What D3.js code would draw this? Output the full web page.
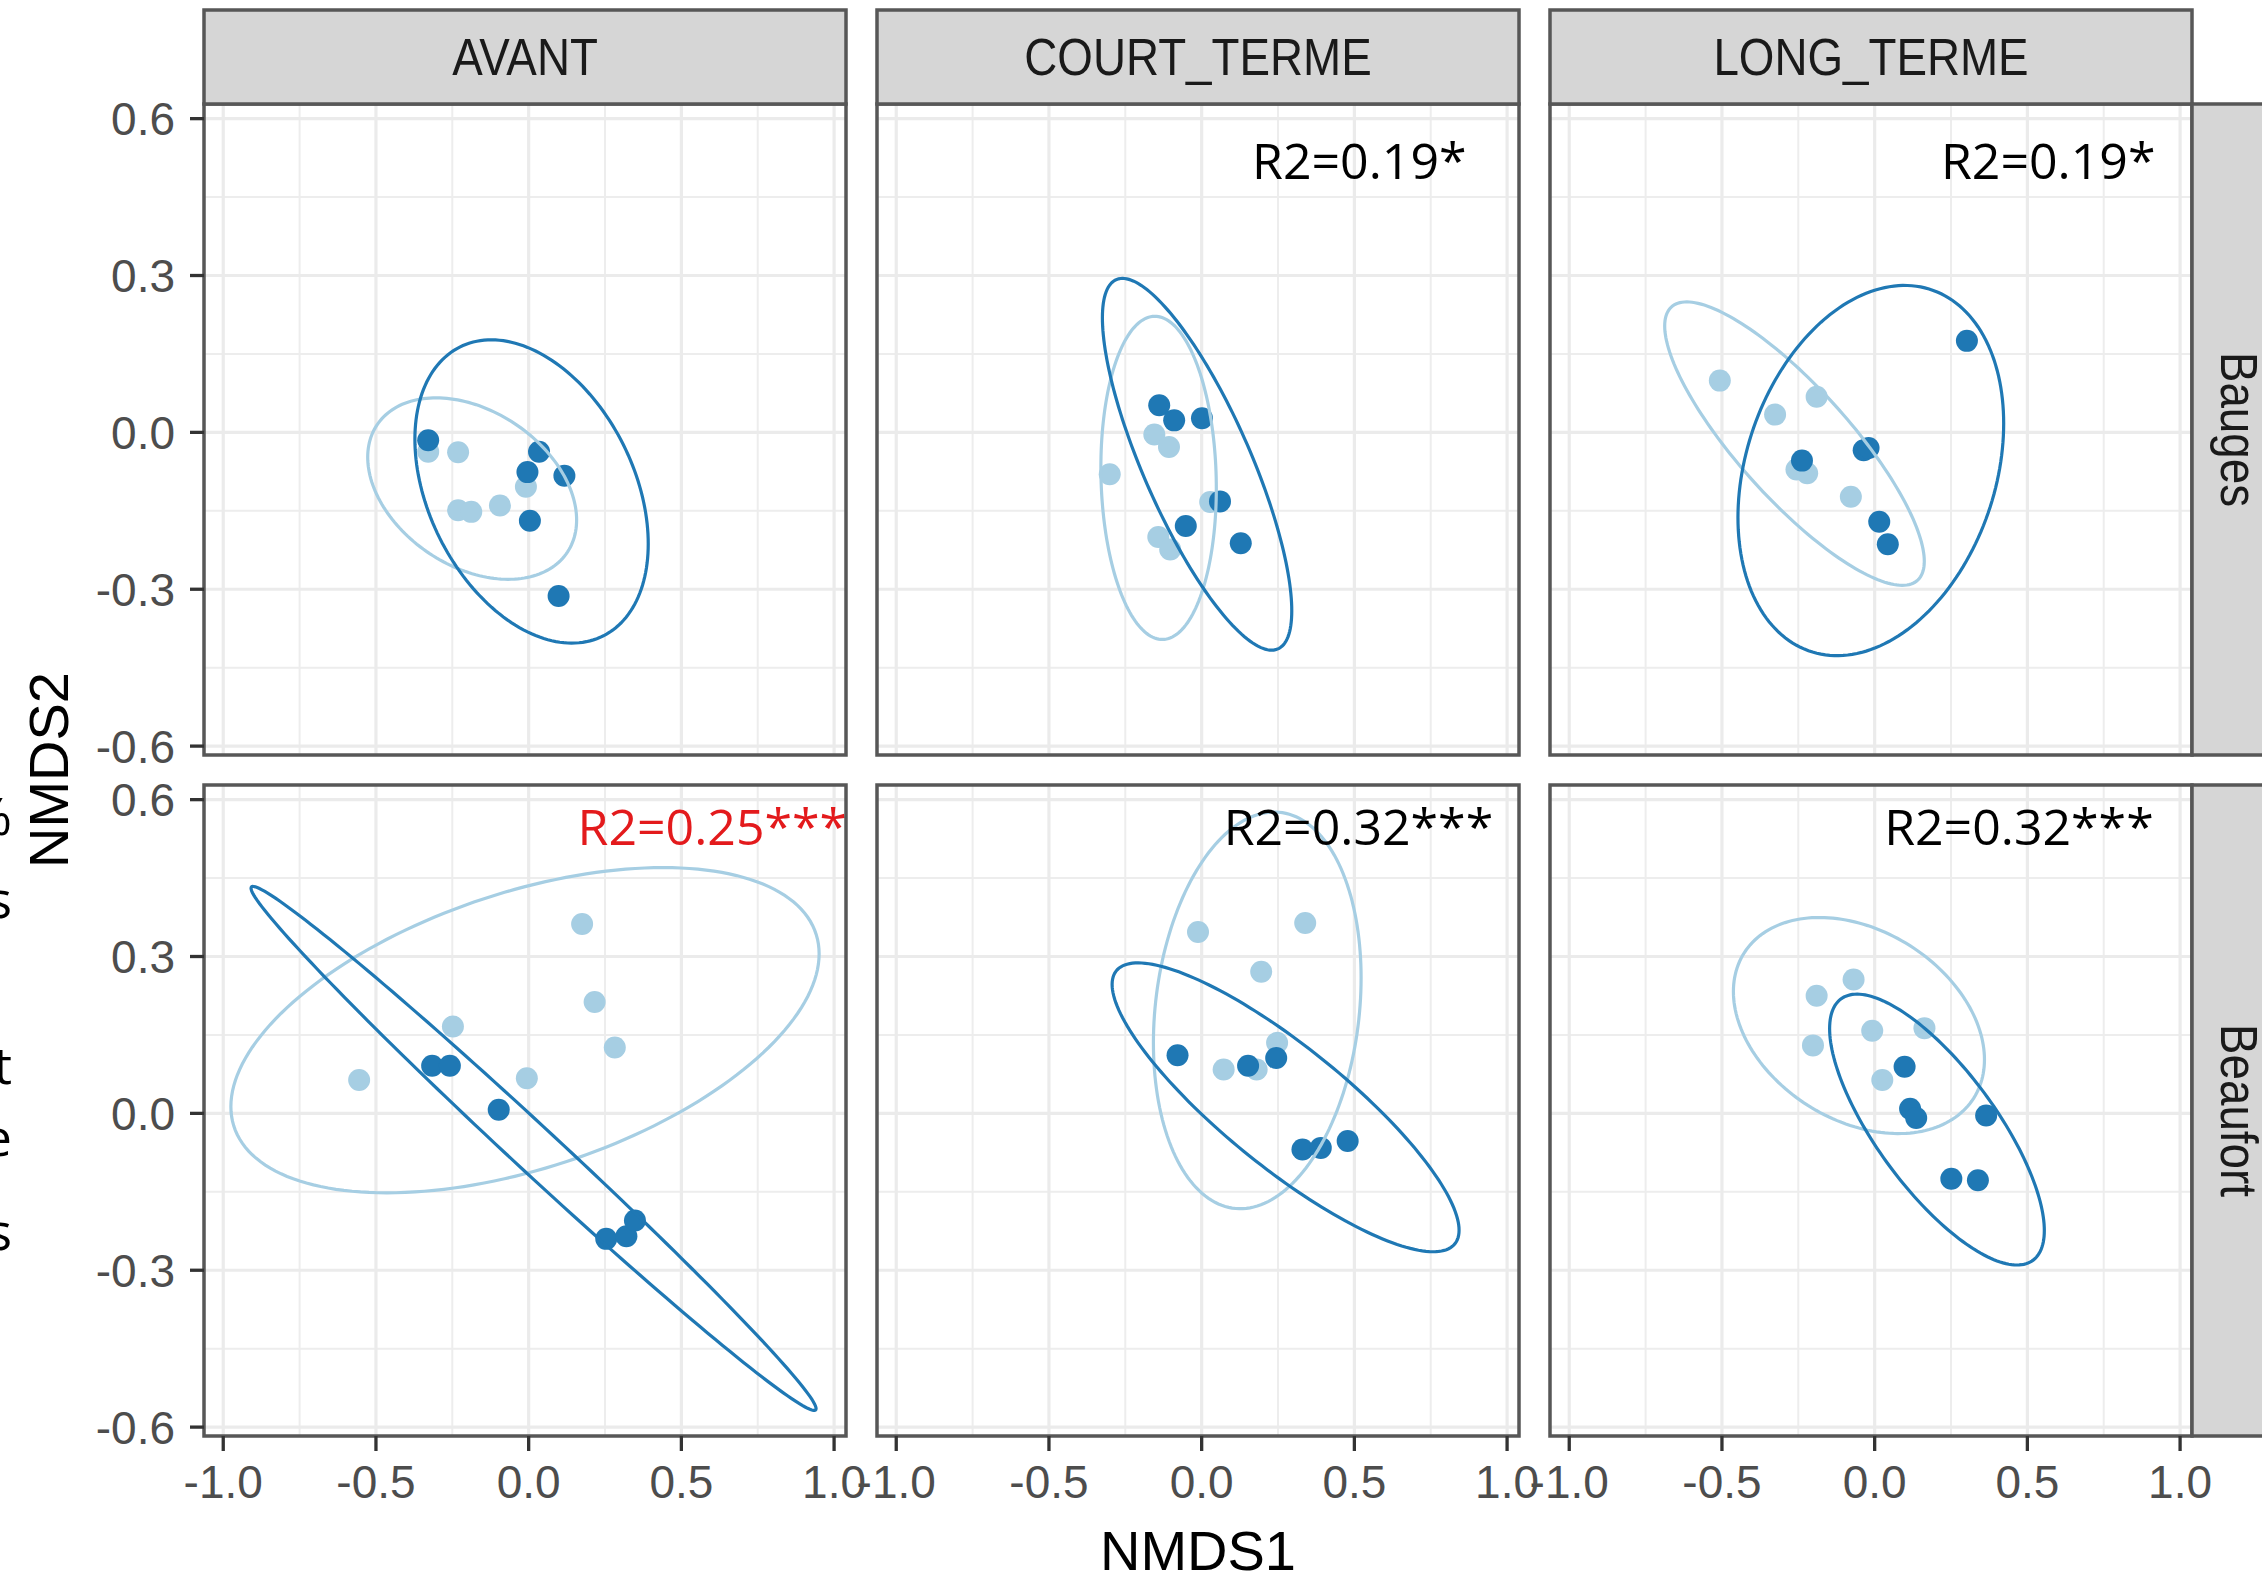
<!DOCTYPE html>
<html>
<head>
<meta charset="utf-8">
<script src="https://cdn.jsdelivr.net/npm/d3@7"></script>
<style>
  body { margin: 0; background: #fff; }
  svg { display: block; }
</style>
</head>
<body>
<div id="chart"></div>
<script>
// facets
var columns = ["AVANT", "COURT_TERME", "LONG_TERME"];
var rows = ["Bauges", "Beaufort"];
var groupColors = { light: "#A6CEE3", dark: "#1F78B4" };

var xTicks = [-1.0, -0.5, 0.0, 0.5, 1.0];
var xTickLabels = ["-1.0", "-0.5", "0.0", "0.5", "1.0"];
var xMinor = [-0.75, -0.25, 0.25, 0.75];
var yTicks = [-0.6, -0.3, 0.0, 0.3, 0.6];
var yTickLabels = ["-0.6", "-0.3", "0.0", "0.3", "0.6"];
var yMinor = [-0.45, -0.15, 0.15, 0.45];

// points [NMDS1, NMDS2], one array per panel and group
var baugesAvantLight = [[-0.329,-0.037],[-0.231,-0.038],[-0.009,-0.104],[-0.231,-0.149],[-0.188,-0.152],[-0.094,-0.140]];
var baugesAvantDark  = [[-0.329,-0.015],[0.034,-0.037],[-0.004,-0.076],[0.117,-0.083],[0.004,-0.169],[0.098,-0.313]];
var baugesCourtLight = [[-0.155,-0.004],[-0.107,-0.028],[-0.301,-0.080],[-0.142,-0.200],[-0.103,-0.224],[0.028,-0.133]];
var baugesCourtDark  = [[-0.139,0.052],[-0.090,0.023],[0.001,0.027],[0.060,-0.132],[-0.052,-0.179],[0.128,-0.212]];
var baugesLongLight  = [[-0.507,0.099],[-0.190,0.068],[-0.326,0.034],[-0.256,-0.071],[-0.221,-0.078],[-0.078,-0.123]];
var baugesLongDark   = [[0.302,0.175],[-0.036,-0.034],[-0.020,-0.030],[-0.238,-0.054],[0.015,-0.171],[0.043,-0.214]];
var beaufortAvantLight = [[0.175,0.362],[0.216,0.213],[0.282,0.126],[-0.555,0.064],[-0.248,0.166],[-0.006,0.067]];
var beaufortAvantDark  = [[-0.316,0.091],[-0.258,0.091],[-0.098,0.007],[0.254,-0.240],[0.320,-0.235],[0.348,-0.205]];
var beaufortCourtLight = [[-0.012,0.347],[0.339,0.364],[0.195,0.271],[0.247,0.135],[0.072,0.084],[0.180,0.084]];
var beaufortCourtDark  = [[-0.079,0.111],[0.152,0.091],[0.244,0.106],[0.330,-0.069],[0.390,-0.066],[0.478,-0.053]];
var beaufortLongLight  = [[-0.190,0.225],[-0.069,0.256],[-0.202,0.130],[-0.008,0.158],[0.163,0.163],[0.025,0.064]];
var beaufortLongDark   = [[0.098,0.089],[0.116,0.009],[0.136,-0.009],[0.365,-0.004],[0.251,-0.125],[0.338,-0.128]];

// ellipses: [cx, cy, half-width, half-height, y offset at rightmost point]
var baugesAvantEll    = { light: [-0.185,-0.1075,0.342,0.1735,-0.060], dark: [0.0095,-0.113,0.382,0.290,-0.100] };
var baugesCourtEll    = { light: [-0.141,-0.087,0.189,0.309,-0.020],   dark: [-0.015,-0.061,0.310,0.3555,-0.280] };
var baugesLongEll     = { light: [-0.2625,-0.0215,0.425,0.271,-0.225], dark: [-0.0126,-0.073,0.435,0.354,0.090] };
var beaufortAvantEll  = { light: [-0.012,0.159,0.963,0.311,0.146],     dark: [0.016,-0.067,0.925,0.501,-0.4975] };
var beaufortCourtEll  = { light: [0.182,0.197,0.340,0.3793,0.062],     dark: [0.2748,0.0116,0.568,0.2762,-0.235] };
var beaufortLongEll   = { light: [-0.0515,0.168,0.411,0.2066,-0.065],  dark: [0.204,-0.031,0.3515,0.259,-0.193] };

// R2 annotations: label, x start, y baseline (data units)
var r2Labels = ["", "R2=0.19*", "R2=0.19*", "R2=0.25***", "R2=0.32***", "R2=0.32***"];
var r2X = [0, 0.165, 0.217, 0.160, 0.072, 0.031];
var r2Y = [0, 0.485, 0.485, 0.514, 0.514, 0.514];
var r2Red = [false, false, false, true, false, false];

var sideText = ["%", "s", "t", "e", "s"];

var panels = [
  { light: baugesAvantLight, dark: baugesAvantDark, ell: baugesAvantEll },
  { light: baugesCourtLight, dark: baugesCourtDark, ell: baugesCourtEll },
  { light: baugesLongLight, dark: baugesLongDark, ell: baugesLongEll },
  { light: beaufortAvantLight, dark: beaufortAvantDark, ell: beaufortAvantEll },
  { light: beaufortCourtLight, dark: beaufortCourtDark, ell: beaufortCourtEll },
  { light: beaufortLongLight, dark: beaufortLongDark, ell: beaufortLongEll }
];

// layout
var width = 2262, height = 1572;
var colX = [204, 877, 1550];
var rowY = [104, 785];
var panelW = 642, panelH = 651;
var stripTop = 10, stripSize = 94;
var sansFont = "'Liberation Sans', Arial, sans-serif";
var annoFont = "'Open Sans', 'Noto Sans', sans-serif";

var svg = d3.select("#chart").append("svg")
  .attr("width", width).attr("height", height);

svg.append("rect").attr("width", width).attr("height", height).attr("fill", "#fff");

var defs = svg.append("defs");

function ellipsePoints(e) {
  var cx = e[0], cy = e[1], w = e[2], h = e[3], a = e[4];
  var b = Math.sqrt(Math.max(h*h - a*a, 0));
  var pts = [];
  for (var k = 0; k < 180; k++) {
    var t = k / 180 * 2 * Math.PI;
    pts.push([cx + w*Math.cos(t), cy + a*Math.cos(t) + b*Math.sin(t)]);
  }
  return pts;
}

panels.forEach(function(p, idx) {
  var r = Math.floor(idx / 3), c = idx % 3;
  var x0 = colX[c], y0 = rowY[r];
  var xScale = d3.scaleLinear().domain([-1.063, 1.039]).range([x0, x0 + panelW]);
  var yScale = d3.scaleLinear().domain([-0.617, 0.628]).range([y0 + panelH, y0]);

  defs.append("clipPath").attr("id", "clip" + idx)
    .append("rect").attr("x", x0).attr("y", y0).attr("width", panelW).attr("height", panelH);

  var g = svg.append("g");
  var inner = g.append("g").attr("clip-path", "url(#clip" + idx + ")");

  // grid
  inner.selectAll(".xminor").data(xMinor).enter().append("line")
    .attr("x1", function(d) { return xScale(d); }).attr("x2", function(d) { return xScale(d); })
    .attr("y1", y0).attr("y2", y0 + panelH)
    .attr("stroke", "#EDEDED").attr("stroke-width", 2);
  inner.selectAll(".yminor").data(yMinor).enter().append("line")
    .attr("y1", function(d) { return yScale(d); }).attr("y2", function(d) { return yScale(d); })
    .attr("x1", x0).attr("x2", x0 + panelW)
    .attr("stroke", "#EDEDED").attr("stroke-width", 2);
  inner.selectAll(".xmajor").data(xTicks).enter().append("line")
    .attr("x1", function(d) { return xScale(d); }).attr("x2", function(d) { return xScale(d); })
    .attr("y1", y0).attr("y2", y0 + panelH)
    .attr("stroke", "#EBEBEB").attr("stroke-width", 3.2);
  inner.selectAll(".ymajor").data(yTicks).enter().append("line")
    .attr("y1", function(d) { return yScale(d); }).attr("y2", function(d) { return yScale(d); })
    .attr("x1", x0).attr("x2", x0 + panelW)
    .attr("stroke", "#EBEBEB").attr("stroke-width", 3.2);

  // points
  ["light", "dark"].forEach(function(grp) {
    inner.selectAll(".pt-" + grp).data(p[grp]).enter().append("circle")
      .attr("cx", function(d) { return xScale(d[0]); })
      .attr("cy", function(d) { return yScale(d[1]); })
      .attr("r", 11)
      .attr("fill", groupColors[grp]);
  });

  // ellipses
  var line = d3.line()
    .x(function(d) { return xScale(d[0]); })
    .y(function(d) { return yScale(d[1]); })
    .curve(d3.curveLinearClosed);
  ["light", "dark"].forEach(function(grp) {
    inner.append("path")
      .attr("d", line(ellipsePoints(p.ell[grp])))
      .attr("fill", "none")
      .attr("stroke", groupColors[grp])
      .attr("stroke-width", 3.2);
  });

  // R2 label
  if (r2Labels[idx]) {
    g.append("text")
      .attr("x", xScale(r2X[idx])).attr("y", yScale(r2Y[idx]))
      .attr("font-family", annoFont).attr("font-size", "50px")
      .attr("fill", r2Red[idx] ? "#E31A1C" : "#000")
      .text(r2Labels[idx]);
  }

  // border
  g.append("rect").attr("x", x0).attr("y", y0).attr("width", panelW).attr("height", panelH)
    .attr("fill", "none").attr("stroke", "#575757").attr("stroke-width", 3.5);

  // y axis on first column
  if (c === 0) {
    g.selectAll(".ytick").data(yTicks).enter().append("line")
      .attr("x1", x0 - 14).attr("x2", x0)
      .attr("y1", function(d) { return yScale(d); }).attr("y2", function(d) { return yScale(d); })
      .attr("stroke", "#333").attr("stroke-width", 3.3);
    g.selectAll(".ylab").data(yTicks).enter().append("text")
      .attr("x", x0 - 29)
      .attr("y", function(d) { return yScale(d); })
      .attr("dy", "0.36em")
      .attr("text-anchor", "end")
      .attr("font-family", sansFont).attr("font-size", "46px").attr("fill", "#4D4D4D")
      .text(function(d, i) { return yTickLabels[i]; });
  }

  // x axis on bottom row
  if (r === 1) {
    g.selectAll(".xtick").data(xTicks).enter().append("line")
      .attr("x1", function(d) { return xScale(d); }).attr("x2", function(d) { return xScale(d); })
      .attr("y1", y0 + panelH).attr("y2", y0 + panelH + 15)
      .attr("stroke", "#333").attr("stroke-width", 3.3);
    g.selectAll(".xlab").data(xTicks).enter().append("text")
      .attr("x", function(d) { return xScale(d); })
      .attr("y", y0 + panelH + 62)
      .attr("text-anchor", "middle")
      .attr("font-family", sansFont).attr("font-size", "46px").attr("fill", "#4D4D4D")
      .text(function(d, i) { return xTickLabels[i]; });
  }
});

// top strips
columns.forEach(function(name, c) {
  svg.append("rect").attr("x", colX[c]).attr("y", stripTop).attr("width", panelW).attr("height", stripSize)
    .attr("fill", "#D6D6D6").attr("stroke", "#575757").attr("stroke-width", 3.5);
  svg.append("text")
    .attr("transform", "translate(" + (colX[c] + panelW / 2) + "," + (stripTop + 65) + ") scale(0.88,1)")
    .attr("text-anchor", "middle")
    .attr("font-family", sansFont).attr("font-size", "52px").attr("fill", "#1A1A1A")
    .text(name);
});

// right strips
rows.forEach(function(name, r) {
  var sx = colX[2] + panelW;
  svg.append("rect").attr("x", sx).attr("y", rowY[r]).attr("width", stripSize).attr("height", panelH)
    .attr("fill", "#D6D6D6").attr("stroke", "#575757").attr("stroke-width", 3.5);
  svg.append("text")
    .attr("transform", "translate(" + (sx + 29) + "," + (rowY[r] + panelH / 2) + ") rotate(90) scale(0.88,1)")
    .attr("text-anchor", "middle")
    .attr("font-family", sansFont).attr("font-size", "52px").attr("fill", "#1A1A1A")
    .text(name);
});

// axis titles
svg.append("text")
  .attr("x", (colX[0] + colX[2] + panelW) / 2).attr("y", 1570)
  .attr("text-anchor", "middle")
  .attr("font-family", sansFont).attr("font-size", "56px").attr("fill", "#000")
  .text("NMDS1");
svg.append("text")
  .attr("transform", "translate(68," + ((rowY[0] + rowY[1] + panelH) / 2) + ") rotate(-90)")
  .attr("text-anchor", "middle")
  .attr("font-family", sansFont).attr("font-size", "56px").attr("fill", "#000")
  .text("NMDS2");

// cut-off text at the left edge
var sideY = [835, 918, 1084, 1156, 1250];
svg.selectAll(".side").data(sideText).enter().append("text")
  .attr("x", 12).attr("y", function(d, i) { return sideY[i]; })
  .attr("text-anchor", "end")
  .attr("font-family", annoFont).attr("font-size", "52px").attr("fill", "#000")
  .text(function(d) { return d; });
</script>
</body>
</html>
